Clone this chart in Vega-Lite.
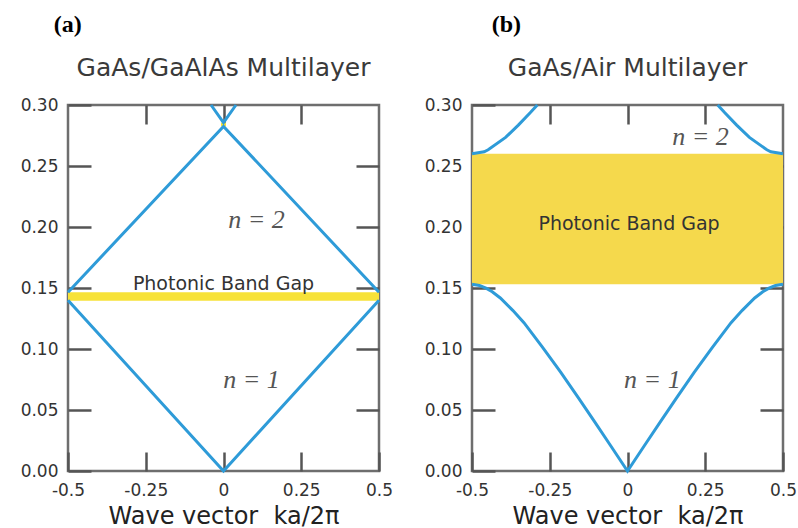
{
  "$schema": "https://vega.github.io/schema/vega-lite/v6.json",
  "padding": {"left": 18, "top": 12, "right": 5, "bottom": 0},
  "background": "white",
  "spacing": 28,
  "config": {
    "view": {"stroke": "#6e6e6e", "strokeWidth": 2.5},
    "axis": {
      "grid": false, "domain": false,
      "labelFont": "DejaVu Sans", "labelFontSize": 17, "labelColor": "#333",
      "tickColor": "#555", "tickWidth": 2.5,
      "titleFont": "DejaVu Sans", "titleFontSize": 24, "titleFontWeight": "normal", "titleColor": "#222",
      "labelFlush": false, "labelOverlap": false
    }
  },
  "datasets": {
    "bandsA": [
      {"band": "1", "q": -0.5, "f": 0.140}, {"band": "1", "q": 0, "f": 0.0}, {"band": "1", "q": 0.5, "f": 0.140},
      {"band": "2", "q": -0.5, "f": 0.1465}, {"band": "2", "q": 0, "f": 0.2825}, {"band": "2", "q": 0.5, "f": 0.1465},
      {"band": "3", "q": -0.04, "f": 0.30}, {"band": "3", "q": 0, "f": 0.2855}, {"band": "3", "q": 0.04, "f": 0.30}
    ],
    "gapA": [
      {"q0": -0.5, "q1": 0.5, "f0": 0.1395, "f1": 0.1465},
      {"q0": -0.008, "q1": 0.008, "f0": 0.2825, "f1": 0.2855}
    ],
    "textA": [{"q": 0, "f": 0.1535, "label": "Photonic Band Gap"}],
    "nA": [{"q": 0.106, "f": 0.206, "label": "n = 2"}, {"q": 0.09, "f": 0.075, "label": "n = 1"}],
    "bandsB": [
      {"band": "1", "q": -0.5, "f": 0.153}, {"band": "1", "q": -0.476, "f": 0.152}, {"band": "1", "q": -0.455, "f": 0.1499},
      {"band": "1", "q": -0.435, "f": 0.1469}, {"band": "1", "q": -0.409, "f": 0.1418}, {"band": "1", "q": -0.369, "f": 0.1317},
      {"band": "1", "q": -0.333, "f": 0.1216}, {"band": "1", "q": -0.273, "f": 0.1013}, {"band": "1", "q": -0.215, "f": 0.081},
      {"band": "1", "q": -0.16, "f": 0.0608}, {"band": "1", "q": -0.106, "f": 0.0405}, {"band": "1", "q": -0.053, "f": 0.0203},
      {"band": "1", "q": 0, "f": 0.0},
      {"band": "1", "q": 0.053, "f": 0.0203}, {"band": "1", "q": 0.106, "f": 0.0405}, {"band": "1", "q": 0.16, "f": 0.0608},
      {"band": "1", "q": 0.215, "f": 0.081}, {"band": "1", "q": 0.273, "f": 0.1013}, {"band": "1", "q": 0.333, "f": 0.1216},
      {"band": "1", "q": 0.369, "f": 0.1317}, {"band": "1", "q": 0.409, "f": 0.1418}, {"band": "1", "q": 0.435, "f": 0.1469},
      {"band": "1", "q": 0.455, "f": 0.1499}, {"band": "1", "q": 0.476, "f": 0.152}, {"band": "1", "q": 0.5, "f": 0.153},
      {"band": "2L", "q": -0.5, "f": 0.26}, {"band": "2L", "q": -0.461, "f": 0.2617}, {"band": "2L", "q": -0.448, "f": 0.2633},
      {"band": "2L", "q": -0.392, "f": 0.2734}, {"band": "2L", "q": -0.351, "f": 0.2835}, {"band": "2L", "q": -0.313, "f": 0.2936},
      {"band": "2L", "q": -0.29, "f": 0.30},
      {"band": "2R", "q": 0.29, "f": 0.30}, {"band": "2R", "q": 0.313, "f": 0.2936}, {"band": "2R", "q": 0.351, "f": 0.2835},
      {"band": "2R", "q": 0.392, "f": 0.2734}, {"band": "2R", "q": 0.448, "f": 0.2633}, {"band": "2R", "q": 0.461, "f": 0.2617},
      {"band": "2R", "q": 0.5, "f": 0.26}
    ],
    "gapB": [{"q0": -0.5, "q1": 0.5, "f0": 0.153, "f1": 0.26}],
    "textB": [{"q": 0.005, "f": 0.2025, "label": "Photonic Band Gap"}],
    "nB": [{"q": 0.235, "f": 0.274, "label": "n = 2"}, {"q": 0.08, "f": 0.075, "label": "n = 1"}]
  },
  "hconcat": [
    {
      "title": {"text": "(a)", "anchor": "start", "font": "Liberation Serif", "fontSize": 24, "fontWeight": "bold", "color": "#000", "dx": 35, "offset": 18},
      "vconcat": [
        {
          "width": 311, "height": 366,
          "title": {"text": "GaAs/GaAlAs Multilayer", "anchor": "middle", "font": "DejaVu Sans", "fontSize": 25, "fontWeight": "normal", "color": "#3a3a3a", "offset": 15},
          "resolve": {"axis": {"x": "independent", "y": "independent"}},
          "layer": [
            {
              "data": {"name": "gapA"},
              "mark": {"type": "rect", "color": "#f7e238"},
              "encoding": {
                "x": {"field": "q0", "type": "quantitative", "scale": {"domain": [-0.5, 0.5], "nice": false},
                  "axis": {"orient": "bottom", "values": [-0.5, -0.25, 0, 0.25, 0.5], "labelExpr": "toString(datum.value)", "tickSize": -19, "labelPadding": 30, "title": "Wave vector\u00a0\u00a0ka/2π", "titlePadding": 6}},
                "x2": {"field": "q1"},
                "y": {"field": "f0", "type": "quantitative", "scale": {"domain": [0, 0.3], "nice": false},
                  "axis": {"orient": "left", "values": [0, 0.05, 0.1, 0.15, 0.2, 0.25, 0.3], "format": ".2f", "tickSize": -23, "labelPadding": 33, "title": null, "minExtent": 48, "maxExtent": 48}},
                "y2": {"field": "f1"}
              }
            },
            {
              "data": {"name": "bandsA"},
              "mark": {"type": "line", "color": "#2e9bd8", "strokeWidth": 3},
              "encoding": {
                "x": {"field": "q", "type": "quantitative", "axis": null},
                "y": {"field": "f", "type": "quantitative", "axis": null},
                "detail": {"field": "band"}
              }
            },
            {
              "data": {"name": "textA"},
              "mark": {"type": "text", "font": "DejaVu Sans", "fontSize": 19, "color": "#333"},
              "encoding": {
                "x": {"field": "q", "type": "quantitative", "axis": null},
                "y": {"field": "f", "type": "quantitative", "axis": null},
                "text": {"field": "label"}
              }
            },
            {
              "data": {"name": "nA"},
              "mark": {"type": "text", "font": "Liberation Serif", "fontStyle": "italic", "fontSize": 26, "color": "#555"},
              "encoding": {
                "x": {"field": "q", "type": "quantitative", "axis": {"orient": "top", "values": [-0.25, 0, 0.25], "labels": false, "tickSize": -19, "title": null, "minExtent": 0, "maxExtent": 0}},
                "y": {"field": "f", "type": "quantitative", "axis": {"orient": "right", "values": [0.05, 0.1, 0.15, 0.2, 0.25], "labels": false, "tickSize": -23, "title": null, "minExtent": 0, "maxExtent": 0}},
                "text": {"field": "label"}
              }
            }
          ]
        }
      ]
    },
    {
      "title": {"text": "(b)", "anchor": "start", "font": "Liberation Serif", "fontSize": 24, "fontWeight": "bold", "color": "#000", "dx": 69, "offset": 18},
      "vconcat": [
        {
          "width": 311, "height": 366,
          "title": {"text": "GaAs/Air Multilayer", "anchor": "middle", "font": "DejaVu Sans", "fontSize": 25, "fontWeight": "normal", "color": "#3a3a3a", "offset": 15},
          "resolve": {"axis": {"x": "independent", "y": "independent"}},
          "layer": [
            {
              "data": {"name": "gapB"},
              "mark": {"type": "rect", "color": "#f5d94c"},
              "encoding": {
                "x": {"field": "q0", "type": "quantitative", "scale": {"domain": [-0.5, 0.5], "nice": false},
                  "axis": {"orient": "bottom", "values": [-0.5, -0.25, 0, 0.25, 0.5], "labelExpr": "toString(datum.value)", "tickSize": -19, "labelPadding": 30, "title": "Wave vector\u00a0\u00a0ka/2π", "titlePadding": 6}},
                "x2": {"field": "q1"},
                "y": {"field": "f0", "type": "quantitative", "scale": {"domain": [0, 0.3], "nice": false},
                  "axis": {"orient": "left", "values": [0, 0.05, 0.1, 0.15, 0.2, 0.25, 0.3], "format": ".2f", "tickSize": -23, "labelPadding": 33, "title": null, "minExtent": 48, "maxExtent": 48}},
                "y2": {"field": "f1"}
              }
            },
            {
              "data": {"name": "bandsB"},
              "mark": {"type": "line", "color": "#2e9bd8", "strokeWidth": 3},
              "encoding": {
                "x": {"field": "q", "type": "quantitative", "axis": null},
                "y": {"field": "f", "type": "quantitative", "axis": null},
                "detail": {"field": "band"}
              }
            },
            {
              "data": {"name": "textB"},
              "mark": {"type": "text", "font": "DejaVu Sans", "fontSize": 19, "color": "#333"},
              "encoding": {
                "x": {"field": "q", "type": "quantitative", "axis": null},
                "y": {"field": "f", "type": "quantitative", "axis": null},
                "text": {"field": "label"}
              }
            },
            {
              "data": {"name": "nB"},
              "mark": {"type": "text", "font": "Liberation Serif", "fontStyle": "italic", "fontSize": 26, "color": "#555"},
              "encoding": {
                "x": {"field": "q", "type": "quantitative", "axis": {"orient": "top", "values": [-0.25, 0, 0.25], "labels": false, "tickSize": -19, "title": null, "minExtent": 0, "maxExtent": 0}},
                "y": {"field": "f", "type": "quantitative", "axis": {"orient": "right", "values": [0.05, 0.1, 0.15, 0.2, 0.25], "labels": false, "tickSize": -23, "title": null, "minExtent": 0, "maxExtent": 0}},
                "text": {"field": "label"}
              }
            }
          ]
        }
      ]
    }
  ]
}
